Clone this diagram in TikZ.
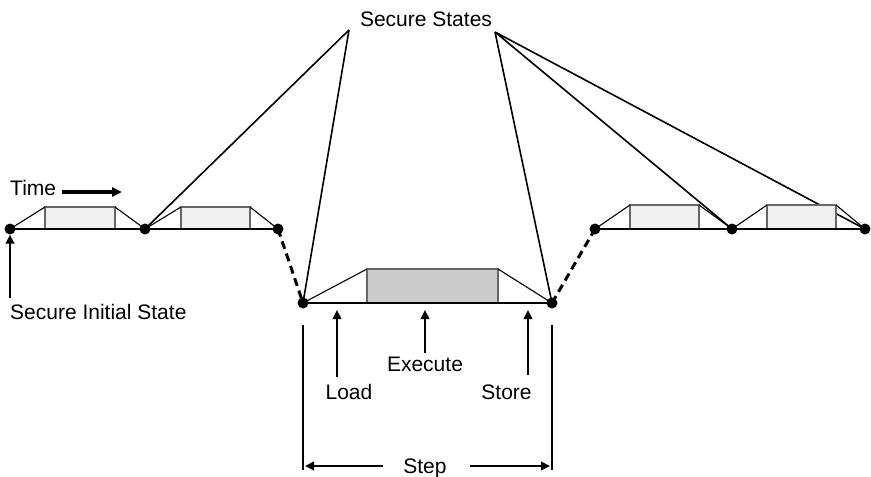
\documentclass[tikz,border=0pt]{standalone}
\usepackage{fontspec}
\setmainfont{Liberation Sans}
\usetikzlibrary{arrows.meta}

% one instruction: load ramp, execute box, store ramp
% #1 left x, #2 right x, #3 box left, #4 box right, #5 top y, #6 base y, #7 box fill
\newcommand{\instrshape}[7]{%
  \fill[#7] (#3,#5) rectangle (#4,#6);
  \draw[phase] (#3,#6) -- (#3,#5) -- (#4,#5) -- (#4,#6);
  \draw[ramp] (#1,#6) -- (#3,#5) (#4,#5) -- (#2,#6);
  \draw[baseline] (#1,#6) -- (#2,#6);
}

\begin{document}
\begin{tikzpicture}[x=1pt,y=-1pt,
  dot/.style={circle,fill=black,inner sep=0pt,minimum size=11pt},
  lbl/.style={font=\fontsize{21}{25}\selectfont, inner sep=0pt},
  sline/.style={line width=1.6pt},
  ramp/.style={line width=1.1pt},
  baseline/.style={line width=1.2pt},
  phase/.style={draw=black!60, line width=1.1pt},
  dashlink/.style={line width=3pt, dash pattern=on 8pt off 5pt},
  ptr/.style={line width=2.3pt, -{Triangle[length=9pt,width=8.5pt]}},
  bar/.style={line width=2.6pt},
]
\useasboundingbox (0,0) rectangle (871,477);

% state points
\coordinate (p0) at (10,229);
\coordinate (p1) at (145,229);
\coordinate (p2) at (278,229);
\coordinate (p3) at (303,303);
\coordinate (p4) at (552,303);
\coordinate (p5) at (595,229);
\coordinate (p6) at (732,229);
\coordinate (p7) at (865,229);

% secure states label and its pointers
\node[lbl, anchor=base] (ss) at (426,26) {Secure States};
\coordinate (ssl) at (349,30);
\coordinate (ssr) at (495,32);
\draw[sline] (ssl) -- (p1) (ssl) -- (p3);
\draw[sline] (ssr) -- (p4) (ssr) -- (p6) (ssr) -- (p7);

% instructions
\instrshape{10}{145}{45}{115}{207}{229}{black!6}
\instrshape{145}{278}{181}{250}{207}{229}{black!6}
\instrshape{303}{552}{367}{498}{269}{303}{black!20}
\instrshape{595}{732}{630}{699}{205}{229}{black!6}
\instrshape{732}{865}{767}{836}{205}{229}{black!6}

% dashed transitions into and out of the detailed step
\draw[dashlink] (p2) -- (p3);
\draw[dashlink] (p4) -- (p5);

% state dots
\foreach \i in {0,...,7} \node[dot] (d\i) at (p\i) {};

% time direction
\node[lbl, anchor=base west] (time) at (10,195) {Time};
\coordinate (tA) at (62,192);
\coordinate (tB) at (122,192);
\draw[line width=3.4pt, -{Triangle[length=10pt,width=9pt]}] (tA) -- (tB);

% secure initial state
\node[lbl, anchor=base west] (sis) at (10,319) {Secure Initial State};
\coordinate (sisT) at (10,298);
\draw[ptr] (sisT) -- (d0);

% phases of the step
\node[lbl, anchor=base] (load) at (349,399) {Load};
\node[lbl, anchor=base] (exec) at (425,371) {Execute};
\node[lbl, anchor=base] (store) at (506.5,399) {Store};
\coordinate (loadT) at (337,377);
\coordinate (loadH) at (337,310);
\coordinate (execT) at (425,353);
\coordinate (execH) at (425,310);
\coordinate (storeT) at (528,375);
\coordinate (storeH) at (528,310);
\draw[ptr] (loadT) -- (loadH);
\draw[ptr] (execT) -- (execH);
\draw[ptr] (storeT) -- (storeH);

% step extent
\coordinate (bl1) at (303,325);
\coordinate (bl2) at (303,470);
\coordinate (br1) at (552,325);
\coordinate (br2) at (552,470);
\draw[bar] (bl1) -- (bl2);
\draw[bar] (br1) -- (br2);
\node[lbl, anchor=base] (step) at (425,473) {Step};
\coordinate (sL1) at (383,466);
\coordinate (sL2) at (305,466);
\coordinate (sR1) at (470,466);
\coordinate (sR2) at (550,466);
\draw[ptr] (sL1) -- (sL2);
\draw[ptr] (sR1) -- (sR2);
\end{tikzpicture}
\end{document}
